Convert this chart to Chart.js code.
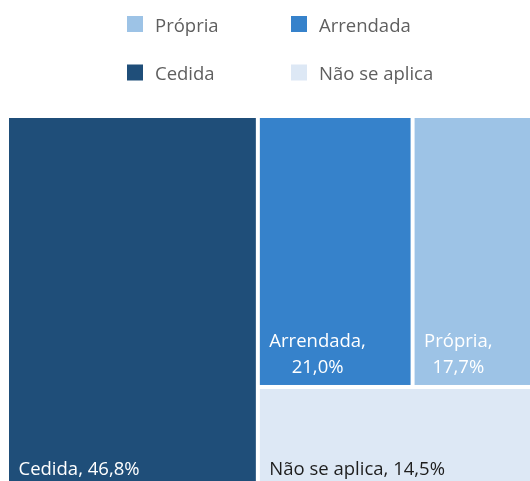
<!DOCTYPE html>
<html>
<head>
<meta charset="utf-8">
<script src="https://cdn.jsdelivr.net/npm/chart.js@4.4.1/dist/chart.umd.min.js"></script>
<style>
  html, body { margin: 0; padding: 0; background: #ffffff; overflow: hidden; width: 530px; height: 481px; }
  #wrap { position: absolute; left: 0; top: 0; width: 550px; height: 500px; }
</style>
</head>
<body>
<div id="wrap"><canvas id="c"></canvas></div>
<script>
// ---- data ----
const categories = ['Própria', 'Arrendada', 'Cedida', 'Não se aplica'];
const shares = [17.7, 21.0, 46.8, 14.5];
const colors = ['#9dc3e6', '#3682cb', '#1f4e79', '#dde8f5'];

function fmtPct(v) { return v.toFixed(1).replace('.', ',') + '%'; }

// squarified treemap layout (d3-style), in data units, aspect measured in pixels
function squarify(values, x0, y0, x1, y1, sx, sy, ratio) {
  const nodes = values.map((v, i) => ({ v, i })).sort((a, b) => b.v - a.v);
  let value = nodes.reduce((s, n) => s + n.v, 0);
  const out = [];
  let i0 = 0; const n = nodes.length;
  while (i0 < n) {
    const dx = (x1 - x0) * sx, dy = (y1 - y0) * sy;
    let i1 = i0;
    let sum = nodes[i1++].v;
    let minV = sum, maxV = sum;
    const alpha = Math.max(dy / dx, dx / dy) / (value * ratio);
    let beta = sum * sum * alpha;
    let minRatio = Math.max(maxV / beta, beta / minV);
    for (; i1 < n; ++i1) {
      const nv = nodes[i1].v;
      sum += nv;
      if (nv < minV) minV = nv;
      if (nv > maxV) maxV = nv;
      beta = sum * sum * alpha;
      const nr = Math.max(maxV / beta, beta / minV);
      if (nr > minRatio) { sum -= nv; break; }
      minRatio = nr;
    }
    const row = nodes.slice(i0, i1);
    if (dx < dy) {
      const yb = y0 + (y1 - y0) * sum / value;
      let x = x0;
      row.forEach(nd => { const w = (x1 - x0) * nd.v / sum; out[nd.i] = { x0: x, x1: x + w, y0: y0, y1: yb }; x += w; });
      y0 = yb;
    } else {
      const xb = x0 + (x1 - x0) * sum / value;
      let y = y0;
      row.forEach(nd => { const h = (y1 - y0) * nd.v / sum; out[nd.i] = { x0: x0, x1: xb, y0: y, y1: y + h }; y += h; });
      x0 = xb;
    }
    value -= sum; i0 = i1;
  }
  return out;
}

function isDark(hex) {
  const r = parseInt(hex.substr(1, 2), 16), g = parseInt(hex.substr(3, 2), 16), b = parseInt(hex.substr(5, 2), 16);
  return (0.299 * r + 0.587 * g + 0.114 * b) < 200;
}

const FONT = '18.5px "Open Sans", "Noto Sans", sans-serif';

const treemapPlugin = {
  id: 'treemap',
  afterDatasetsDraw(chart) {
    const ctx = chart.ctx;
    const xs = chart.scales.x, ys = chart.scales.y;
    const area = chart.chartArea;
    const vals = chart.data.datasets.map(d => d.value);
    const rects = squarify(vals, 0, 0, 100, 100, area.width / 100, area.height / 100, 1.2);
    ctx.save();
    ctx.font = FONT;
    chart.data.datasets.forEach((ds, i) => {
      const r = rects[i];
      const px0 = xs.getPixelForValue(r.x0), px1 = xs.getPixelForValue(r.x1);
      const py0 = ys.getPixelForValue(r.y0), py1 = ys.getPixelForValue(r.y1);
      const L = Math.min(px0, px1) + 2, R = Math.max(px0, px1) - 2;
      const T = Math.min(py0, py1) + 2, B = Math.max(py0, py1) - 2;
      ctx.fillStyle = ds.backgroundColor;
      ctx.fillRect(L, T, R - L, B - T);
      // label
      const full = ds.label + ', ' + fmtPct(ds.value);
      let lines = [full];
      if (ctx.measureText(full).width + 20 > R - L) lines = [ds.label + ',', fmtPct(ds.value)];
      const widths = lines.map(t => ctx.measureText(t).width);
      const bw = Math.max(...widths);
      const lh = 25.7;
      ctx.fillStyle = isDark(ds.backgroundColor) ? '#ffffff' : '#1e1e1e';
      ctx.textBaseline = 'alphabetic';
      ctx.textAlign = 'left';
      lines.forEach((t, k) => {
        const baseline = B - 12 - (lines.length - 1 - k) * lh;
        ctx.fillText(t, L + 9.5 + (bw - widths[k]) / 2, baseline);
      });
    });
    ctx.restore();
  },
  afterDraw(chart) {
    // two-column legend
    const ctx = chart.ctx;
    ctx.save();
    ctx.font = FONT;
    ctx.textBaseline = 'alphabetic';
    ctx.textAlign = 'left';
    chart.data.datasets.forEach((ds, i) => {
      const col = i % 2, row = Math.floor(i / 2);
      const bx = 127 + col * 164, by = 16 + row * 48.5;
      ctx.fillStyle = ds.backgroundColor;
      ctx.fillRect(bx, by, 16, 16);
      ctx.fillStyle = '#5f5f5f';
      ctx.fillText(ds.label, bx + 28, by + 15.5);
    });
    ctx.restore();
  }
};

new Chart(document.getElementById('c'), {
  type: 'scatter',
  data: {
    datasets: categories.map((c, i) => ({ label: c, value: shares[i], data: [], backgroundColor: colors[i] }))
  },
  options: {
    responsive: true,
    maintainAspectRatio: false,
    devicePixelRatio: 1,
    animation: false,
    layout: { padding: { left: 7, right: 7, top: 116, bottom: 11.5 } },
    scales: {
      x: { type: 'linear', min: 0, max: 100, display: false },
      y: { type: 'linear', min: 0, max: 100, reverse: true, display: false }
    },
    plugins: { legend: { display: false }, tooltip: { enabled: false } }
  },
  plugins: [treemapPlugin]
});
</script>
</body>
</html>
